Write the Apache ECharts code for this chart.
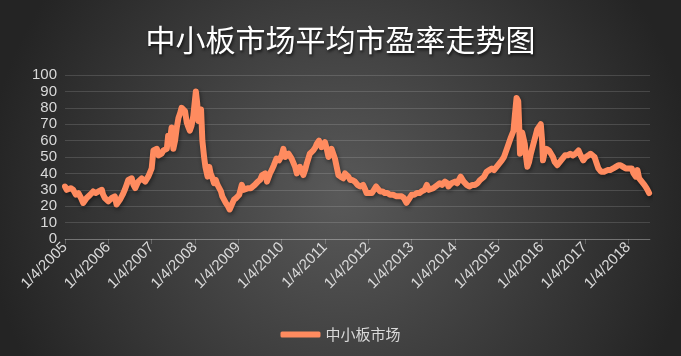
<!DOCTYPE html>
<html>
<head>
<meta charset="utf-8">
<script src="https://cdn.jsdelivr.net/npm/echarts@6/dist/echarts.min.js"></script>
<style>
html,body{margin:0;padding:0;background:#2a2a2a;}
#chart{width:681px;height:356px;}
</style>
</head>
<body>
<div id="chart"></div>
<script>
var titleText = '中小板市场平均市盈率走势图';
var seriesName = '中小板市场';
var yTicks = [0,10,20,30,40,50,60,70,80,90,100];
var xTickYears = [2005,2006,2007,2008,2009,2010,2011,2012,2013,2014,2015,2016,2017,2018];

// time as fractional year
var dates = [
2005.00,2005.04,2005.08,2005.13,2005.19,2005.25,2005.31,2005.37,2005.42,2005.45,2005.50,2005.54,2005.58,2005.65,2005.71,2005.77,2005.85,2005.88,2005.92,
2006.00,2006.04,2006.08,2006.15,2006.19,2006.23,2006.27,2006.33,2006.38,2006.42,2006.46,2006.54,2006.58,2006.62,2006.69,2006.73,2006.77,2006.85,2006.92,2006.97,
2007.00,2007.04,2007.08,2007.12,2007.16,2007.19,2007.23,2007.27,2007.31,2007.35,2007.38,2007.42,2007.46,2007.50,2007.54,2007.58,2007.62,2007.66,2007.69,2007.73,2007.77,2007.81,2007.85,2007.88,2007.92,2007.96,
2008.00,2008.02,2008.05,2008.08,2008.11,2008.14,2008.17,2008.21,2008.24,2008.29,2008.33,2008.36,2008.39,2008.44,2008.48,2008.52,2008.56,2008.60,2008.63,2008.71,2008.76,2008.80,2008.85,2008.90,2008.95,
2009.02,2009.08,2009.13,2009.17,2009.23,2009.29,2009.38,2009.45,2009.50,2009.55,2009.62,2009.66,2009.69,2009.73,2009.77,2009.82,2009.88,2009.94,
2010.00,2010.04,2010.08,2010.12,2010.16,2010.19,2010.23,2010.27,2010.31,2010.35,2010.42,2010.46,2010.50,2010.54,2010.58,2010.65,2010.73,2010.78,2010.81,2010.86,2010.90,2010.92,2010.96,
2011.00,2011.04,2011.08,2011.12,2011.15,2011.19,2011.23,2011.27,2011.31,2011.36,2011.42,2011.46,2011.50,2011.54,2011.58,2011.63,2011.69,2011.75,2011.81,2011.88,2011.93,2011.96,
2012.02,2012.08,2012.13,2012.18,2012.22,2012.27,2012.33,2012.38,2012.44,2012.50,2012.57,2012.65,2012.71,2012.77,2012.82,2012.88,2012.93,
2013.00,2013.06,2013.12,2013.18,2013.23,2013.30,2013.35,2013.40,2013.44,2013.50,2013.54,2013.60,2013.65,2013.70,2013.77,2013.82,2013.85,2013.92,
2014.00,2014.05,2014.13,2014.20,2014.27,2014.33,2014.40,2014.46,2014.52,2014.58,2014.67,2014.73,2014.79,2014.85,2014.90,2014.96,
2015.02,2015.08,2015.13,2015.21,2015.29,2015.35,2015.38,2015.42,2015.46,2015.48,2015.50,2015.53,2015.55,2015.61,2015.64,2015.67,2015.71,2015.75,2015.83,2015.90,2015.98,
2016.01,2016.03,2016.07,2016.11,2016.17,2016.21,2016.26,2016.30,2016.36,2016.42,2016.48,2016.54,2016.60,2016.66,2016.72,2016.78,2016.85,2016.90,2016.96,
2017.02,2017.08,2017.13,2017.17,2017.22,2017.27,2017.31,2017.37,2017.44,2017.52,2017.58,2017.65,2017.71,2017.77,2017.82,2017.88,2017.94,2017.98,
2018.03,2018.08,2018.12,2018.17,2018.21,2018.25,2018.31,2018.37,2018.42,2018.46,2018.48
];
var peValues = [
32,30,29,31,30,27,28,25,22,21,25,24,27,29,28,29,30,27,25,
23,24,25,26,21,22,24,27,30,33,36,37,33,31,35,34,37,35,38,41,
43,54,53,55,51,50,52,54,53,55,63,60,68,55,60,68,74,77,80,79,78,71,68,66,69,75,
85,90,83,72,76,79,60,50,44,38,44,40,38,34,36,33,33,29,26,22,20,18,21,24,25,
27,33,30,29,31,31,33,35,36,39,40,35,36,40,42,45,49,48,
51,55,50,49,52,51,49,48,44,40,44,42,39,42,46,52,54,56,58,60,58,56,57,
59,55,50,53,55,52,49,44,39,38,37,40,39,38,36,36,35,33,32,33,30,28,
28,28,30,32,31,29,29,28,28,27,27,26,26,26,25,22,24,
27,27,28,28,29,30,33,30,29,31,32,33,34,33,35,34,32,34,
35,34,38,35,33,32,33,33,34,36,38,41,42,43,42,44,
46,48,50,56,62,66,75,86,84,70,52,60,65,58,50,44,47,52,60,67,70,
60,48,53,55,54,53,50,47,45,47,49,51,51,52,51,52,54,51,48,
50,51,52,53,50,46,43,41,41,42,42,43,44,45,45,44,43,42,
43,43,40,38,42,37,35,33,31,29,28
];

var lineData = dates.map(function(d, i){ return [d, peValues[i]]; });

var chart = echarts.init(document.getElementById('chart'), null, {renderer:'canvas'});
var labelColor = '#D9D9D9';
var fontFam = '"Liberation Sans", Arial, "Noto Sans CJK SC", sans-serif';
chart.setOption({
  animation: false,
  backgroundColor: {
    type: 'radial', x: 0.5, y: 0.55, r: 1.0,
    colorStops: [{offset: 0, color: '#595959'}, {offset: 1, color: '#242424'}]
  },
  title: {
    text: titleText,
    left: 'center',
    top: 20,
    textStyle: {
      color: '#FFFFFF',
      fontSize: 30,
      fontWeight: 'normal',
      fontFamily: '"Noto Sans CJK SC", sans-serif',
      textShadowColor: 'rgba(0,0,0,0.7)',
      textShadowBlur: 3,
      textShadowOffsetX: 1,
      textShadowOffsetY: 2
    }
  },
  legend: {
    data: [seriesName],
    left: 'center',
    top: 322,
    icon: 'roundRect',
    itemWidth: 40,
    itemHeight: 6,
    itemGap: 10,
    textStyle: {color: labelColor, fontSize: 15, fontFamily: '"Noto Sans CJK SC", sans-serif'}
  },
  grid: {left: 65, right: 31, top: 75, bottom: 117, containLabel: false},
  xAxis: {
    type: 'value',
    min: 2005,
    max: 2018.5,
    splitLine: {show: false},
    axisLine: {show: true, lineStyle: {color: 'rgba(255,255,255,0.22)', width: 1}},
    axisTick: {show: true, customValues: xTickYears, length: 5, lineStyle: {color: 'rgba(255,255,255,0.22)'}},
    axisLabel: {
      customValues: xTickYears,
      rotate: 45,
      margin: 6,
      color: labelColor,
      fontSize: 15,
      fontFamily: fontFam,
      formatter: function(v){ return '1/4/' + Math.round(v); }
    }
  },
  yAxis: {
    type: 'value',
    min: yTicks[0],
    max: yTicks[yTicks.length - 1],
    interval: 10,
    axisLine: {show: false},
    axisTick: {show: false},
    splitLine: {lineStyle: {color: 'rgba(255,255,255,0.14)', width: 1}},
    axisLabel: {color: labelColor, fontSize: 15, margin: 8, fontFamily: fontFam}
  },
  series: [{
    name: seriesName,
    type: 'line',
    data: lineData,
    showSymbol: false,
    symbol: 'none',
    lineStyle: {
      color: '#FF8B5F',
      width: 6,
      join: 'round',
      cap: 'round',
      shadowColor: 'rgba(0,0,0,0.45)',
      shadowBlur: 4,
      shadowOffsetX: 1,
      shadowOffsetY: 2
    },
    itemStyle: {color: '#FF8B5F'}
  }]
});
</script>
</body>
</html>
